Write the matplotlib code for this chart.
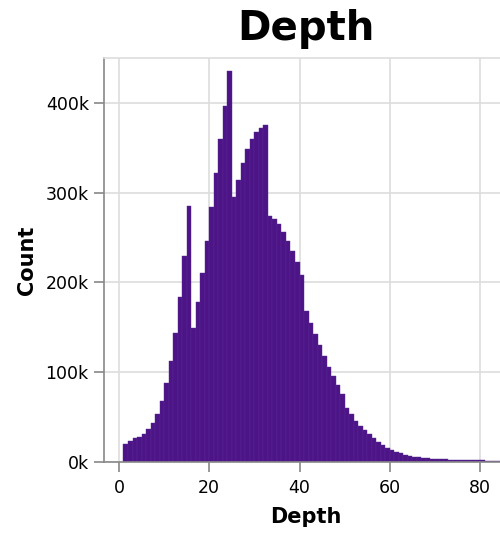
import matplotlib
matplotlib.use("Agg")
import matplotlib.pyplot as plt
from matplotlib.ticker import FuncFormatter
import numpy as np

# histogram of depth, one bin per integer depth (counts in thousands)
depth_bins = list(range(1, 88))
counts_k = [
    20.0, 23.7, 26.7, 28.2, 31.6, 37.0, 43.8, 54.0, 68.0, 87.6,
    112.9, 144.0, 183.5, 230.0, 285.6, 149.0, 178.0, 211.0, 246.6, 283.7,
    321.7, 360.0, 397.0, 436.0, 295.6, 314.0, 332.8, 348.7, 360.0, 368.0,
    371.8, 375.0, 274.0, 270.7, 264.8, 256.6, 246.6, 234.7, 222.3, 208.5,
    168.6, 155.0, 143.0, 130.7, 118.4, 106.2, 96.2, 85.8, 75.8, 59.8,
    53.5, 46.0, 40.5, 35.5, 30.7, 26.7, 22.5, 19.0, 16.0, 13.4,
    11.5, 9.7, 8.2, 7.0, 5.9, 5.2, 4.5, 4.1, 3.7, 3.3,
    3.0, 2.8, 2.6, 2.4, 2.2, 2.1, 2.0, 1.9, 1.8, 1.7,
    1.6, 1.5, 1.4, 1.3, 1.2, 1.1, 1.0,
]
counts = np.array(counts_k) * 1000

xticks = [0, 20, 40, 60, 80]
yticks = [0, 100000, 200000, 300000, 400000]

bar_color = '#4c1486'
grid_color = '#dddddd'
axis_color = '#888888'

fig = plt.figure(figsize=(5, 5.33), dpi=100)
ax = fig.add_axes([0.208, 0.1332, 0.808, 0.758])

ax.bar(depth_bins, counts, width=1.0, align='edge', color=bar_color,
       edgecolor='#5b2a95', linewidth=0.3, zorder=2)

ax.set_xlim(-3.32, 86.2)
ax.set_ylim(0, 450000)
ax.set_xticks(xticks)
ax.set_yticks(yticks)
ax.yaxis.set_major_formatter(FuncFormatter(lambda v, p: '%dk' % round(v / 1000)))

ax.grid(True, color=grid_color, linewidth=1.2, zorder=0)
ax.set_axisbelow(True)

for side in ['top', 'right']:
    ax.spines[side].set_color(grid_color)
    ax.spines[side].set_linewidth(1.2)
for side in ['left', 'bottom']:
    ax.spines[side].set_color(axis_color)
    ax.spines[side].set_linewidth(1.2)

ax.tick_params(axis='both', colors=axis_color, length=7, width=1.2,
               labelsize=12.5, labelcolor='black')
ax.tick_params(axis='x', pad=5)
ax.tick_params(axis='y', pad=4)

fig.text(0.612, 0.925, 'Depth', ha='center', va='baseline',
         fontsize=29, fontweight='bold')
fig.text(0.612, 0.030, 'Depth', ha='center', va='center',
         fontsize=15, fontweight='bold')
fig.text(0.054, 0.512, 'Count', ha='center', va='center', rotation=90,
         fontsize=15, fontweight='bold')

fig.savefig('out.png', dpi=100)
